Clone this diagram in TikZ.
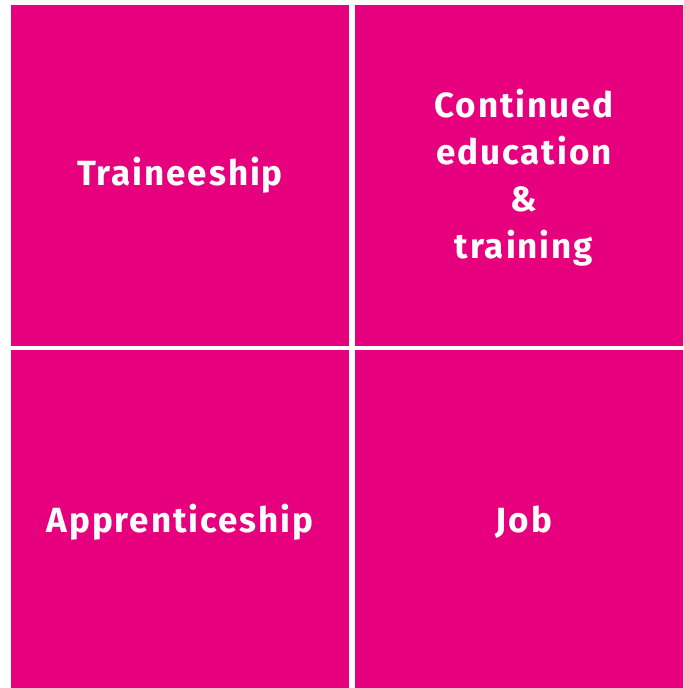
\documentclass[tikz,border=0pt]{standalone}
\usepackage{fontspec}
\setmainfont{Fira Sans}[LetterSpace=5.5]
\definecolor{euMagenta}{HTML}{E6007E}
\begin{document}
\begin{tikzpicture}[x=1pt,y=-1pt,
  tile/.style={fill=euMagenta,draw=none},
  lbl/.style={text=white,font=\fontsize{35}{47}\selectfont\bfseries,align=center,inner sep=0pt}]
\useasboundingbox (0,0) rectangle (683,688);
\begin{scope}
\clip (0,0) rectangle (683,688);
\fill[tile] (11,5) rectangle (349,346);
\fill[tile] (355,5) rectangle (693,346);
\fill[tile] (11,350) rectangle (349,691);
\fill[tile] (355,350) rectangle (693,691);
\end{scope}
\node[lbl] (trainee) at (180,175) {Traineeship};
\node[lbl] (cont) at (524,178) {Continued\\education\\\&\\training};
\node[lbl] (appr) at (180,522) {Apprenticeship};
\node[lbl] (job) at (524,522) {Job};
\end{tikzpicture}
\end{document}
